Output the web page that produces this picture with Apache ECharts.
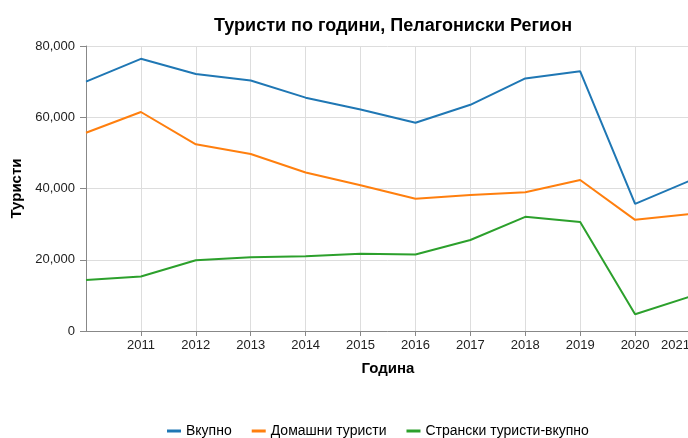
<!DOCTYPE html>
<html>
    <head>
        <meta charset="utf-8">
    </head>
    <body style="margin:0">
        <div id="main" style="width:688px;height:438px"></div>
        <script src="https://cdn.jsdelivr.net/npm/echarts@6/dist/echarts.min.js"></script>
        <script type="text/javascript">
            var years = [2010, 2011, 2012, 2013, 2014, 2015, 2016, 2017, 2018, 2019, 2020, 2021]
            var vkupno = [69980, 76400, 72140, 70300, 65500, 62200, 58450, 63500, 70900, 72900, 35700, 42200]
            var domashni = [55650, 61470, 52400, 49700, 44500, 40900, 37100, 38180, 38950, 42390, 31200, 32800]
            var stranski = [14350, 15300, 19850, 20700, 21000, 21650, 21450, 25550, 32050, 30600, 4700, 9640]
            var names = ['Вкупно', 'Домашни туристи', 'Странски туристи-вкупно']
            var colors = ['#1f77b4', '#ff7f0e', '#2ca02c']

            var font = 'Liberation Sans, Arial, sans-serif'

            function pairs(vals) {
                return years.map(function (y, i) { return [y, vals[i]] })
            }

            var option = {
                animation: false,
                color: colors,
                title: {
                    text: 'Туристи по години, Пелагониски Регион',
                    left: 388,
                    textAlign: 'center',
                    top: 12,
                    textStyle: { fontFamily: font, fontSize: 18, fontWeight: 'bold', color: '#000' }
                },
                legend: {
                    data: names,
                    top: 419,
                    left: 162,
                    orient: 'horizontal',
                    icon: 'rect',
                    itemWidth: 14,
                    itemHeight: 3,
                    itemGap: 20,
                    textStyle: { fontFamily: font, fontSize: 14, color: '#000' }
                },
                grid: { left: 86, right: -2, top: 46, bottom: 107, containLabel: false, outerBoundsMode: 'none' },
                xAxis: {
                    type: 'value',
                    min: 2010,
                    max: 2021,
                    interval: 1,
                    name: 'Година',
                    nameLocation: 'middle',
                    nameGap: 30,
                    nameTextStyle: { fontFamily: font, fontSize: 15, fontWeight: 'bold', color: '#000' },
                    axisLine: { lineStyle: { color: '#888' } },
                    axisTick: { length: 5, lineStyle: { color: '#888' } },
                    axisLabel: {
                        showMinLabel: false,
                        alignMaxLabel: 'right',
                        fontFamily: font, fontSize: 13, color: '#222',
                        formatter: function (v) { return String(v) }
                    },
                    splitLine: { show: true, lineStyle: { color: '#ddd' } }
                },
                yAxis: {
                    type: 'value',
                    min: 0,
                    max: 80000,
                    interval: 20000,
                    name: 'Туристи',
                    nameLocation: 'middle',
                    nameGap: 55,
                    nameTextStyle: { fontFamily: font, fontSize: 15, fontWeight: 'bold', color: '#000' },
                    axisLine: { show: true, lineStyle: { color: '#888' } },
                    axisTick: { show: true, length: 6, lineStyle: { color: '#888' } },
                    axisLabel: {
                        fontFamily: font, fontSize: 13, color: '#222', margin: 11,
                        formatter: function (v) { return v.toLocaleString('en-US') }
                    },
                    splitLine: { lineStyle: { color: '#ddd' } }
                },
                series: [
                    { name: names[0], type: 'line', data: pairs(vkupno), symbol: 'none', lineStyle: { width: 2 } },
                    { name: names[1], type: 'line', data: pairs(domashni), symbol: 'none', lineStyle: { width: 2 } },
                    { name: names[2], type: 'line', data: pairs(stranski), symbol: 'none', lineStyle: { width: 2 } }
                ]
            }

            var mychart = echarts.init(document.getElementById('main'))
            mychart.setOption(option)
        </script>
    </body>
</html>
